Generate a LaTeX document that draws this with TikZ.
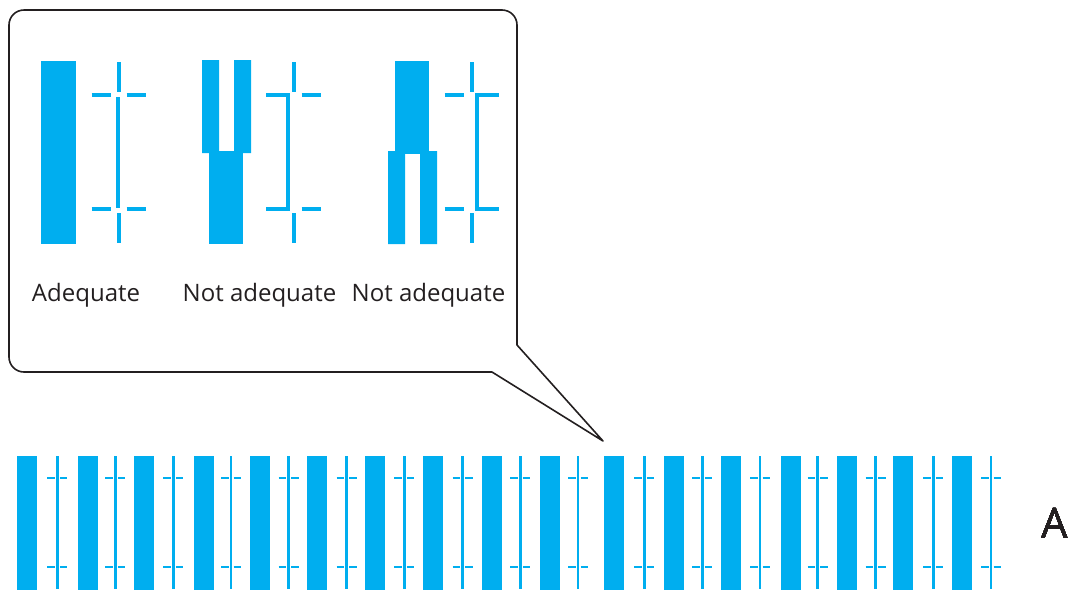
\documentclass[tikz,border=0pt]{standalone}
\usepackage{fontspec,xcolor,tikz}
\setmainfont{Open Sans}
\definecolor{cyanfarbe}{HTML}{00AEEF}
\definecolor{rahmen}{HTML}{231F20}
\newcommand{\etikett}{\fontsize{24}{29}\selectfont}
\newcommand{\grossbuchst}{\fontsize{42}{50}\selectfont}
\tikzset{balken/.style={fill=cyanfarbe},
  strich/.style={cyanfarbe,line width=4pt},
  feinstrich/.style={cyanfarbe,line width=2.6pt},
  blase/.style={rahmen,line width=1.6pt,line join=round},
  beschriftung/.style={inner sep=0,text=rahmen,font=\etikett,anchor=base}}
% Kreuzmarke in der Sprechblase: senkrechte Striche und waagrechte Stuecke um x=#1
\newcommand{\marke}[1]{%
  \draw[strich] (#1,62) -- (#1,92) (#1,213) -- (#1,243);
  \draw[strich] (#1-27,94.5) -- (#1-8,94.5) (#1+8,94.5) -- (#1+27,94.5)
                (#1-27,209) -- (#1-8,209) (#1+8,209) -- (#1+27,209);}
% kleine Marke der unteren Reihe bei x=#1
\newcommand{\reihenmarke}[1]{%
  \draw[feinstrich] (#1,456) -- (#1,589);
  \draw[feinstrich] (#1-10,478) -- (#1-2.5,478) (#1+2.5,478) -- (#1+10,478)
                    (#1-10,567) -- (#1-2.5,567) (#1+2.5,567) -- (#1+10,567);}

\begin{document}
\begin{tikzpicture}[x=1pt,y=-1pt]
\useasboundingbox (0,0) rectangle (1071,590);
% Sprechblase
\coordinate (spitze) at (603,441);
\draw[blase] (spitze) -- (492,372) [rounded corners=15] -- (9,372) -- (9,10) -- (517,10)
  [sharp corners] -- (517,345) -- cycle;
% Muster 1
\fill[balken] (41,61) rectangle (76,244);
\marke{118.5}
\draw[strich] (117.5,97) -- (117.5,208);
\node[beschriftung] (gut) at (86,301) {Adequate};
% Muster 2
\fill[balken] (202,60) rectangle (219,153) (234,60) rectangle (251,153);
\fill[balken] (209,151) rectangle (243,244);
\marke{293.5}
\draw[strich] (266,94.5) -- (288,94.5) -- (288,209) -- (266,209);
\node[beschriftung] (schlecht1) at (259.5,301) {Not adequate};
% Muster 3
\fill[balken] (395,61) rectangle (429,154);
\fill[balken] (388,151) rectangle (405,244) (420,151) rectangle (437,244);
\marke{471.5}
\draw[strich] (499,94.5) -- (476.5,94.5) -- (476.5,209) -- (499,209);
\node[beschriftung] (schlecht2) at (428.5,301) {Not adequate};
% untere Reihe
\foreach \x in {17,78,134,194,250,307,365,423,482,540,604,664,721,781,837,893,952}
  \fill[balken] (\x,456) rectangle (\x+20,590);
\foreach \x in {57.3,115.3,173.3,231,288.7,346.7,404.3,462.7,520.3,578,
                644.3,702.3,760,817.7,875.7,933.3,991}
  \reihenmarke{\x}
\node[inner sep=0,text=rahmen,font=\grossbuchst,anchor=base] (reihe) at (1055,538) {A};
\end{tikzpicture}
\end{document}
